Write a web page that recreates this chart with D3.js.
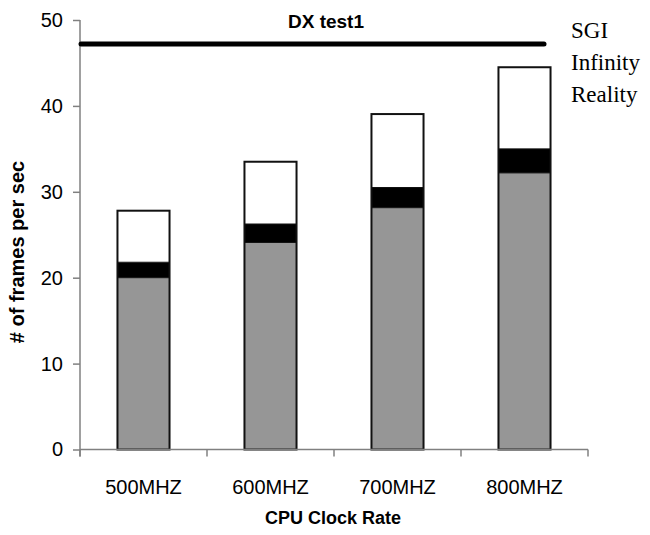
<!DOCTYPE html>
<html>
<head>
<meta charset="utf-8">
<script src="https://cdn.jsdelivr.net/npm/d3@7/dist/d3.min.js"></script>
<style>
  html, body { margin: 0; padding: 0; background: #fff; }
  svg { display: block; }
</style>
</head>
<body>
<svg id="chart" width="650" height="535"></svg>
<script>
const categories = ["500MHZ", "600MHZ", "700MHZ", "800MHZ"];
const seriesNames = ["base", "middle", "upper"];
const baseValues = [20.0, 24.1, 28.15, 32.2];
const middleValues = [1.8, 2.15, 2.35, 2.8];
const upperValues = [6.0, 7.25, 8.55, 9.5];
const yTicks = [0, 10, 20, 30, 40, 50];
const refLineValue = 47.2;
const title = "DX test1";
const xTitle = "CPU Clock Rate";
const yTitle = "# of frames per sec";
const sideLabel = ["SGI", "Infinity", "Reality"];

(function () {
const colors = { base: "#969696", middle: "#000000", upper: "#ffffff" };
const sans = "'Liberation Sans', Arial, sans-serif";
const serif = "'Liberation Serif', 'Times New Roman', serif";

const svg = d3.select("#chart");
const mLeft = 80, mRight = 588, mTop = 20, mBottom = 449.5;

const x = d3.scaleBand().domain(categories).range([mLeft, mRight]).paddingInner(0.59).paddingOuter(0.295);
const xb = d3.scaleBand().domain(categories).range([mLeft, mRight]);
const y = d3.scaleLinear().domain([0, 50]).range([mBottom, mTop]);

const rows = categories.map((c, i) => ({ cat: c, base: baseValues[i], middle: middleValues[i], upper: upperValues[i] }));
const stack = d3.stack().keys(seriesNames)(rows);

const g = svg.append("g");
stack.forEach(layer => {
  g.selectAll(null).data(layer).enter().append("rect")
    .attr("x", d => x(d.data.cat))
    .attr("width", x.bandwidth())
    .attr("y", d => y(d[1]))
    .attr("height", d => y(d[0]) - y(d[1]))
    .attr("fill", colors[layer.key])
    .attr("stroke", "none");
});
g.selectAll(null).data(rows).enter().append("rect")
  .attr("x", d => x(d.cat))
  .attr("width", x.bandwidth())
  .attr("y", d => y(d.base + d.middle + d.upper))
  .attr("height", d => y(0) - y(d.base + d.middle + d.upper))
  .attr("fill", "none")
  .attr("stroke", "#111")
  .attr("stroke-width", 2);
stack.slice(0, 2).forEach(layer => {
  g.selectAll(null).data(layer).enter().append("line")
    .attr("x1", d => x(d.data.cat)).attr("x2", d => x(d.data.cat) + x.bandwidth())
    .attr("y1", d => y(d[1])).attr("y2", d => y(d[1]))
    .attr("stroke", "#111").attr("stroke-width", 1);
});

const yAxis = d3.axisLeft(y).tickValues(yTicks).tickSize(7).tickPadding(10);
const ya = svg.append("g").attr("transform", `translate(${mLeft},0)`).call(yAxis);
ya.select(".domain").attr("d", `M0,${mTop}V${mBottom + 7}`).attr("stroke", "#808080").attr("stroke-width", 1.5);
ya.selectAll(".tick line").attr("stroke", "#808080").attr("stroke-width", 1.5);
ya.selectAll(".tick text").attr("font-family", sans).attr("font-size", 20).attr("fill", "#000");

const xa = svg.append("g").attr("transform", `translate(0,${mBottom})`);
xa.append("line").attr("x1", mLeft).attr("x2", mRight).attr("y1", 0).attr("y2", 0)
  .attr("stroke", "#808080").attr("stroke-width", 1.5);
const tickPos = categories.map(c => xb(c)).concat([mRight]);
xa.selectAll(null).data(tickPos).enter().append("line")
  .attr("x1", d => d).attr("x2", d => d).attr("y1", 0).attr("y2", 7)
  .attr("stroke", "#808080").attr("stroke-width", 1.5);
xa.selectAll(null).data(categories).enter().append("text")
  .attr("x", d => xb(d) + xb.bandwidth() / 2)
  .attr("y", 44)
  .attr("text-anchor", "middle")
  .attr("font-family", sans)
  .attr("font-size", 20)
  .text(d => d);

svg.append("line")
  .attr("x1", mLeft + 1).attr("x2", 544)
  .attr("y1", y(refLineValue)).attr("y2", y(refLineValue))
  .attr("stroke", "#000").attr("stroke-width", 5).attr("stroke-linecap", "round");

svg.append("text").attr("x", 326).attr("y", 28).attr("text-anchor", "middle")
  .attr("font-family", sans).attr("font-weight", "bold").attr("font-size", 19)
  .text(title);

svg.append("g").selectAll("text").data(sideLabel).enter().append("text")
  .attr("x", 571).attr("y", (d, i) => 38 + i * 32)
  .attr("font-family", serif).attr("font-size", 23)
  .text(d => d);

svg.append("text").attr("x", 333).attr("y", 524).attr("text-anchor", "middle")
  .attr("font-family", sans).attr("font-weight", "bold").attr("font-size", 18)
  .text(xTitle);
svg.append("text").attr("transform", "translate(24,252) rotate(-90)").attr("text-anchor", "middle")
  .attr("font-family", sans).attr("font-weight", "bold").attr("font-size", 20)
  .text(yTitle);
})();
</script>
</body>
</html>
